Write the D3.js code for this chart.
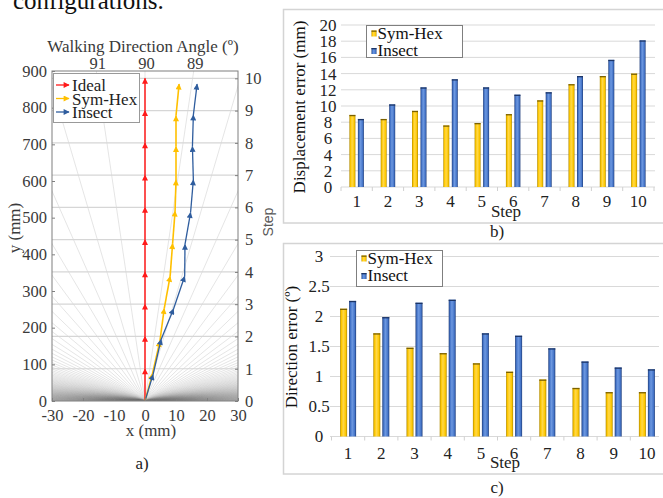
<!DOCTYPE html>
<html>
<head>
<meta charset="utf-8">
<script src="https://cdn.jsdelivr.net/npm/d3@7"></script>
<style>
  body { margin: 0; background: #fff; }
  svg { display: block; font-family: "Liberation Serif", "Times New Roman", serif; }
</style>
</head>
<body>
<svg id="chart" width="663" height="498"></svg>
<script>
// ---- data ----
// a) trajectories (x mm, y mm), one point per step 0..10
const idealX  = [0, 0, 0, 0, 0, 0, 0, 0, 0, 0, 0];
const idealY  = [0, 88, 176, 264, 352, 440, 528, 616, 704, 792, 880];
const symHexX = [0, 2.4, 4.8, 6.2, 8.1, 8.9, 9.7, 10.0, 10.0, 10.0, 11.0];
const symHexY = [0, 74, 163, 252, 340, 429, 518, 603, 694, 778, 864];
const insectX = [0, 2.6, 5.2, 9.2, 12.8, 12.9, 14.7, 15.6, 15.3, 15.6, 16.8];
const insectY = [0, 72, 168, 251, 340, 427, 514, 603, 694, 780, 864];
const angleLabels = [91, 90, 89];
const xTicksA = [-30, -20, -10, 0, 10, 20, 30];
const yTicksA = [0, 100, 200, 300, 400, 500, 600, 700, 800, 900];
const stepTicks = [0, 1, 2, 3, 4, 5, 6, 7, 8, 9, 10];

// b) and c) bar charts
const steps = [1, 2, 3, 4, 5, 6, 7, 8, 9, 10];
const dispSymHex = [8.9, 8.4, 9.4, 7.6, 7.9, 9.0, 10.7, 12.7, 13.7, 14.0];
const dispInsect = [8.4, 10.2, 12.3, 13.3, 12.3, 11.4, 11.7, 13.7, 15.7, 18.1];
const dirSymHex  = [2.13, 1.72, 1.48, 1.39, 1.22, 1.08, 0.95, 0.81, 0.74, 0.74];
const dirInsect  = [2.26, 1.99, 2.23, 2.28, 1.72, 1.68, 1.47, 1.25, 1.15, 1.12];
const yTicksB = [0, 2, 4, 6, 8, 10, 12, 14, 16, 18, 20];
const yTicksC = [0, 0.5, 1, 1.5, 2, 2.5, 3];

const svg = d3.select("#chart");
const defs = svg.append("defs");

// bit of text cut at the top of the page
svg.append("text").attr("x", 13).attr("y", 9)
  .attr("font-size", 25).attr("fill", "#111")
  .text("configurations.");

// ================= a) =================
const x = d3.scaleLinear().domain([-30, 30]).range([52, 238]);
const y = d3.scaleLinear().domain([0, 900]).range([401, 71]);
const yStep = d3.scaleLinear().domain([0, 10]).range([y(idealY[0]), y(idealY[10])]);

defs.append("clipPath").attr("id", "clipA")
  .append("rect")
  .attr("x", x(-30)).attr("y", y(900))
  .attr("width", x(30) - x(-30)).attr("height", y(0) - y(900));

const gA = svg.append("g");
const plotA = gA.append("g").attr("clip-path", "url(#clipA)");

// radial angle lines, one every degree
d3.range(0, 181, 1).forEach(deg => {
  const r = deg * Math.PI / 180;
  const L = 6000;
  plotA.append("line")
    .attr("x1", x(0)).attr("y1", y(0))
    .attr("x2", x(L * Math.cos(r))).attr("y2", y(L * Math.sin(r)))
    .attr("stroke", "#777").attr("stroke-opacity", 0.32).attr("stroke-width", 0.6);
});

// horizontal step grid
plotA.selectAll(".sgrid").data(stepTicks.slice(1)).enter().append("line")
  .attr("x1", x(-30)).attr("x2", x(30))
  .attr("y1", d => yStep(d)).attr("y2", d => yStep(d))
  .attr("stroke", "#d6d6d6").attr("stroke-width", 1.2);

// arrow markers
function arrowMarker(id, color) {
  defs.append("marker").attr("id", id)
    .attr("viewBox", "0 0 10 10").attr("refX", 9).attr("refY", 5)
    .attr("markerUnits", "userSpaceOnUse")
    .attr("markerWidth", 7).attr("markerHeight", 6)
    .attr("orient", "auto")
    .append("path").attr("d", "M0,0L10,5L0,10Z").attr("fill", color);
}
const series = [
  { name: "Ideal", xs: idealX, ys: idealY, color: "#ff1a1a", w: 1.5 },
  { name: "Sym-Hex", xs: symHexX, ys: symHexY, color: "#ffc000", w: 1.6 },
  { name: "Insect", xs: insectX, ys: insectY, color: "#2f5d9e", w: 1.3 }
];
series.forEach((s, i) => arrowMarker("arr" + i, s.color));

series.forEach((s, i) => {
  for (let k = 1; k < s.xs.length; k++) {
    plotA.append("line")
      .attr("x1", x(s.xs[k - 1])).attr("y1", y(s.ys[k - 1]))
      .attr("x2", x(s.xs[k])).attr("y2", y(s.ys[k]))
      .attr("stroke", s.color).attr("stroke-width", s.w)
      .attr("marker-end", `url(#arr${i})`);
  }
});

// frame
gA.append("rect")
  .attr("x", x(-30)).attr("y", y(900))
  .attr("width", x(30) - x(-30)).attr("height", y(0) - y(900))
  .attr("fill", "none").attr("stroke", "#7f7f7f").attr("stroke-width", 1);

// axes
const axL = gA.append("g").attr("transform", `translate(${x(-30)},0)`)
  .call(d3.axisLeft(y).tickValues(yTicksA).tickSize(-3).tickPadding(5));
const axB = gA.append("g").attr("transform", `translate(0,${y(0)})`)
  .call(d3.axisBottom(x).tickValues(xTicksA).tickSize(-3).tickPadding(8).tickFormat(d => String(d)));
const axR = gA.append("g").attr("transform", `translate(${x(30)},0)`)
  .call(d3.axisRight(yStep).tickValues(stepTicks).tickSize(-3).tickPadding(7));
[axL, axB, axR].forEach(a => {
  a.select(".domain").remove();
  a.selectAll(".tick line").attr("stroke", "#7f7f7f");
  a.selectAll(".tick text").attr("font-family", "Liberation Serif").attr("font-size", 16.5).attr("fill", "#3a3a3a");
});

// top angle labels
gA.selectAll(".ang").data(angleLabels).enter().append("text")
  .attr("x", d => x(900 * Math.cos(d * Math.PI / 180) / Math.sin(d * Math.PI / 180)) + 1.5)
  .attr("y", 69).attr("text-anchor", "middle")
  .attr("font-size", 16.5).attr("fill", "#3a3a3a").text(d => d);

gA.append("text").attr("x", 143).attr("y", 52).attr("text-anchor", "middle")
  .attr("font-size", 17).attr("fill", "#3a3a3a").text("Walking Direction Angle (º)");
gA.append("text").attr("x", 151).attr("y", 436).attr("text-anchor", "middle")
  .attr("font-size", 17).attr("fill", "#3a3a3a").text("x (mm)");
gA.append("text").attr("transform", "translate(20,228) rotate(-90)").attr("text-anchor", "middle")
  .attr("font-size", 17).attr("fill", "#3a3a3a").text("y (mm)");
gA.append("text").attr("transform", "translate(273,222) rotate(-90)").attr("text-anchor", "middle")
  .attr("font-family", "Liberation Sans").attr("font-size", 14).attr("fill", "#595959").text("Step");
gA.append("text").attr("x", 142).attr("y", 469).attr("text-anchor", "middle")
  .attr("font-size", 17).attr("fill", "#222").text("a)");

// legend a
const legA = gA.append("g");
legA.append("rect").attr("x", 53.5).attr("y", 73.5).attr("width", 86).attr("height", 49)
  .attr("fill", "#fff").attr("stroke", "#999");
series.forEach((s, i) => {
  const yy = 85 + i * 13.5;
  legA.append("line").attr("x1", 56).attr("x2", 69).attr("y1", yy).attr("y2", yy)
    .attr("stroke", s.color).attr("stroke-width", 1.3).attr("marker-end", `url(#arr${i})`);
  legA.append("text").attr("x", 72).attr("y", yy + 6).attr("font-size", 17)
    .attr("fill", "#222").text(s.name);
});

// ================= bar charts =================
function barGradient(id, edge, mid, center) {
  const g = defs.append("linearGradient").attr("id", id)
    .attr("x1", "0%").attr("x2", "100%").attr("y1", "0%").attr("y2", "0%");
  [[0, edge], [0.2, mid], [0.45, center], [0.8, mid], [1, edge]].forEach(([o, c]) =>
    g.append("stop").attr("offset", o).attr("stop-color", c));
}
barGradient("gYel", "#b08a00", "#ffc800", "#ffd84a");
barGradient("gBlu", "#1f3d7a", "#4474c8", "#6d98e0");
const yelCap = "#7a6000", bluCap = "#1c3566";

function barChart(cfg) {
  const g = svg.append("g");
  const xb = d3.scaleBand().domain(steps).range(cfg.xRange);
  const yb = d3.scaleLinear().domain(cfg.yDomain).range(cfg.yRange);

  // panel frame
  g.append("rect").attr("x", cfg.frame[0]).attr("y", cfg.frame[1])
    .attr("width", cfg.frame[2]).attr("height", cfg.frame[3])
    .attr("fill", "none").attr("stroke", "#d4d4d4").attr("stroke-width", 1.5);

  // grid
  g.selectAll(".grid").data(cfg.yTicks).enter().append("line")
    .attr("x1", cfg.gridX[0]).attr("x2", cfg.gridX[1])
    .attr("y1", d => yb(d)).attr("y2", d => yb(d))
    .attr("stroke", "#d9d9d9").attr("stroke-width", 1);

  // category tick marks between bands
  const edges = steps.map(s => xb(s)).concat([xb(steps[steps.length - 1]) + xb.bandwidth()]);
  g.selectAll(".ctick").data(edges).enter().append("line")
    .attr("x1", d => d).attr("x2", d => d)
    .attr("y1", yb(0)).attr("y2", yb(0) + 4)
    .attr("stroke", "#d0d0d0");

  const bw = cfg.barW, gap = cfg.gap;
  const groups = [
    { vals: cfg.sym, fill: "url(#gYel)", cap: yelCap, off: -gap / 2 - bw },
    { vals: cfg.ins, fill: "url(#gBlu)", cap: bluCap, off: gap / 2 }
  ];
  groups.forEach(gr => {
    g.selectAll(null).data(steps).enter().append("rect")
      .attr("x", (d, i) => xb(d) + xb.bandwidth() / 2 + gr.off)
      .attr("y", (d, i) => yb(gr.vals[i]))
      .attr("width", bw)
      .attr("height", (d, i) => yb(0) - yb(gr.vals[i]))
      .attr("fill", gr.fill);
    g.selectAll(null).data(steps).enter().append("rect")
      .attr("x", (d, i) => xb(d) + xb.bandwidth() / 2 + gr.off)
      .attr("y", (d, i) => yb(gr.vals[i]))
      .attr("width", bw).attr("height", 1.3)
      .attr("fill", gr.cap);
  });

  // labels
  g.selectAll(".xl").data(steps).enter().append("text")
    .attr("x", d => xb(d) + xb.bandwidth() / 2).attr("y", cfg.xLabelY)
    .attr("text-anchor", "middle").attr("font-size", 17).attr("fill", "#222")
    .text(d => d);
  g.selectAll(".yl").data(cfg.yTicks).enter().append("text")
    .attr("x", cfg.yLabelX).attr("y", d => yb(d)).attr("dy", "0.35em")
    .attr("text-anchor", "middle").attr("font-size", 17).attr("fill", "#222")
    .text(d => d);

  g.append("text").attr("x", cfg.stepPos[0]).attr("y", cfg.stepPos[1])
    .attr("text-anchor", "middle").attr("font-size", 17).attr("fill", "#222").text("Step");
  g.append("text").attr("transform", `translate(${cfg.titlePos[0]},${cfg.titlePos[1]}) rotate(-90)`)
    .attr("text-anchor", "middle").attr("font-size", 17).attr("fill", "#111").text(cfg.title);
  g.append("text").attr("x", cfg.tagPos[0]).attr("y", cfg.tagPos[1])
    .attr("text-anchor", "middle").attr("font-size", 17).attr("fill", "#222").text(cfg.tag);

  // legend
  const [lx, ly, lw, lh] = cfg.legend;
  g.append("rect").attr("x", lx).attr("y", ly).attr("width", lw).attr("height", lh)
    .attr("fill", "#fff").attr("stroke", "#7f7f7f").attr("stroke-width", 1);
  [["Sym-Hex", "url(#gYel)", yelCap], ["Insect", "url(#gBlu)", bluCap]].forEach(([name, fill, cap], i) => {
    const by = ly + 13 + i * 17.5;
    g.append("rect").attr("x", lx + 5).attr("y", by - 8).attr("width", 5).attr("height", 6).attr("fill", fill);
    g.append("rect").attr("x", lx + 5).attr("y", by - 8).attr("width", 5).attr("height", 1.3).attr("fill", cap);
    g.append("text").attr("x", lx + 11).attr("y", by).attr("font-size", 17).attr("fill", "#111").text(name);
  });
}

barChart({
  xRange: [341, 654], yDomain: [0, 20], yRange: [187, 25], yTicks: yTicksB,
  gridX: [341, 655], frame: [283.5, 9.5, 385, 213.5],
  sym: dispSymHex, ins: dispInsect, barW: 6, gap: 2.5,
  xLabelY: 207, yLabelX: 328, stepPos: [506, 217],
  title: "Displacement error (mm)", titlePos: [305, 107],
  tag: "b)", tagPos: [497, 237], legend: [366.5, 25.5, 96, 32]
});

barChart({
  xRange: [331.5, 663.5], yDomain: [0, 3], yRange: [436.5, 256.5], yTicks: yTicksC,
  gridX: [330, 659], frame: [283.5, 243.5, 385, 230.5],
  sym: dirSymHex, ins: dirInsect, barW: 7, gap: 2,
  xLabelY: 459, yLabelX: 319, stepPos: [505, 468],
  title: "Direction error (º)", titlePos: [297, 347],
  tag: "c)", tagPos: [497, 493], legend: [356.5, 250.5, 86, 36]
});
</script>
</body>
</html>
